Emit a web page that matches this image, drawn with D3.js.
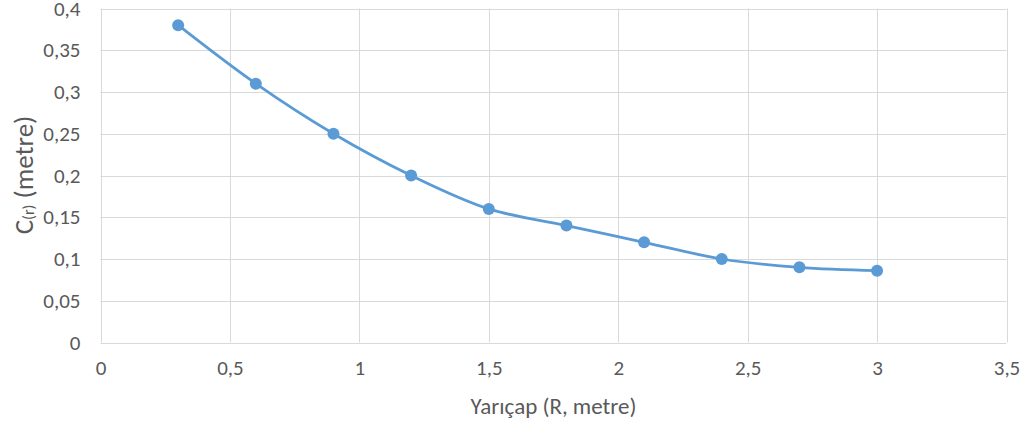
<!DOCTYPE html>
<html lang="tr">
<head>
<meta charset="utf-8">
<title>C(r) - Yarıçap</title>
<style>
  body { margin: 0; background: #fff; }
  svg text { font-family: Carlito, "Open Sans", "Liberation Sans", sans-serif; fill: #595959; }
  .grid line { stroke: #d9d9d9; stroke-width: 1; }
</style>
</head>
<body>
<svg id="chart" width="1032" height="425"></svg>
<script src="https://cdn.jsdelivr.net/npm/d3@7"></script>
<script>
// data
var radius = [0.3, 0.6, 0.9, 1.2, 1.5, 1.8, 2.1, 2.4, 2.7, 3.0];
var cr = [0.38, 0.31, 0.25, 0.20, 0.16, 0.14, 0.12, 0.10, 0.09, 0.086];
var xTicks = [0, 0.5, 1, 1.5, 2, 2.5, 3, 3.5];
var yTicks = [0, 0.05, 0.1, 0.15, 0.2, 0.25, 0.3, 0.35, 0.4];

var svg = d3.select("#chart");
var plotLeft = 100.5, plotRight = 1006.5, plotTop = 8.5, plotBottom = 342.5;

var x = d3.scaleLinear().domain([0, 3.5]).range([plotLeft, plotRight]);
var y = d3.scaleLinear().domain([0, 0.4]).range([plotBottom, plotTop]);

// turkish style decimal comma
var fmt = function(d) { return String(d).replace(".", ","); };

// gridlines
var grid = svg.append("g").attr("class", "grid");
grid.selectAll(".h").data(yTicks).enter().append("line")
  .attr("x1", plotLeft).attr("x2", plotRight)
  .attr("y1", function(d) { return Math.round(y(d)) + 0.5; })
  .attr("y2", function(d) { return Math.round(y(d)) + 0.5; });
grid.selectAll(".v").data(xTicks).enter().append("line")
  .attr("y1", plotTop).attr("y2", plotBottom)
  .attr("x1", function(d) { return Math.round(x(d)) + 0.5; })
  .attr("x2", function(d) { return Math.round(x(d)) + 0.5; });

// tick labels
var xAxis = svg.append("g")
  .attr("transform", "translate(0," + plotBottom + ")")
  .call(d3.axisBottom(x).tickValues(xTicks).tickFormat(fmt).tickSize(0).tickPadding(18));
xAxis.select(".domain").remove();

var yAxis = svg.append("g")
  .attr("transform", "translate(" + plotLeft + ",0)")
  .call(d3.axisLeft(y).tickValues(yTicks).tickFormat(fmt).tickSize(0).tickPadding(20));
yAxis.select(".domain").remove();
svg.selectAll(".tick text")
  .attr("fill", "#595959")
  .style("font-family", "Carlito, 'Open Sans', sans-serif")
  .style("font-size", "21px");

// line + markers
var line = d3.line()
  .x(function(d, i) { return x(radius[i]); })
  .y(function(d) { return y(d); })
  .curve(d3.curveCatmullRom.alpha(0.5));

svg.append("path")
  .datum(cr)
  .attr("d", line)
  .attr("fill", "none")
  .attr("stroke", "#5b9bd5")
  .attr("stroke-width", 2.75);

svg.selectAll(".dot").data(cr).enter().append("circle")
  .attr("cx", function(d, i) { return x(radius[i]); })
  .attr("cy", function(d) { return y(d); })
  .attr("r", 6)
  .attr("fill", "#5b9bd5");

// axis titles
svg.append("text")
  .attr("x", (plotLeft + plotRight) / 2)
  .attr("y", 414)
  .attr("text-anchor", "middle")
  .style("font-size", "23px")
  .text("Yarıçap (R, metre)");

var yt = svg.append("text")
  .attr("transform", "translate(33," + 175 + ") rotate(-90)")
  .attr("text-anchor", "middle")
  .style("font-size", "27px");
yt.append("tspan").text("C");
yt.append("tspan").style("font-size", "16px").attr("dy", 1).text("(r)");
yt.append("tspan").attr("dy", -1).text(" (metre)");
</script>
</body>
</html>
